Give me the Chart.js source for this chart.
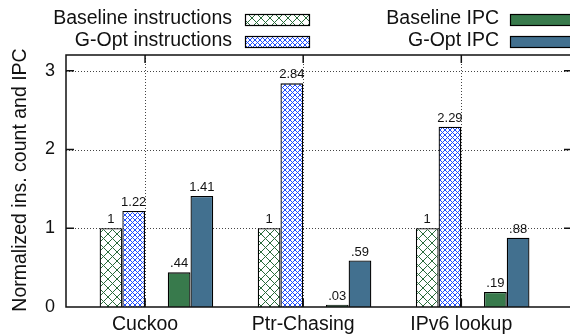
<!DOCTYPE html>
<html>
<head>
<meta charset="utf-8">
<script src="https://cdn.jsdelivr.net/npm/chart.js@4"></script>
<style>
  html, body { margin: 0; padding: 0; background: #fff; overflow: hidden; }
</style>
</head>
<body>
<canvas id="chart" width="576" height="334"></canvas>
<script>
const categories = ['Cuckoo', 'Ptr-Chasing', 'IPv6 lookup'];
const baselineInstructions = [1, 1, 1];
const goptInstructions = [1.22, 2.84, 2.29];
const baselineIPC = [0.44, 0.03, 0.19];
const goptIPC = [1.41, 0.59, 0.88];
const yTicks = [0, 1, 2, 3];

const FONT = "'Liberation Sans', Arial, Helvetica, sans-serif";
const canvas = document.getElementById('chart');
const ctx = canvas.getContext('2d');

// crosshatch fills like gnuplot's patterns
function hatch(size, color) {
  const c = document.createElement('canvas');
  c.width = size; c.height = size;
  const g = c.getContext('2d');
  g.fillStyle = '#fff';
  g.fillRect(0, 0, size, size);
  g.strokeStyle = color;
  g.lineWidth = 1;
  g.beginPath();
  g.moveTo(0, 0); g.lineTo(size, size);
  g.moveTo(size, 0); g.lineTo(0, size);
  g.stroke();
  return ctx.createPattern(c, 'repeat');
}

const greenHatch = hatch(9, '#2a6b3b');
const blueHatch = hatch(5, '#1f4dff');

const points = vals => vals.map((v, i) => ({ x: i, y: v }));
const spacer = () => ({ label: '', data: points([0, 0, 0]), backgroundColor: 'rgba(0,0,0,0)', borderWidth: 0, spacer: true });

function bar(label, vals, fill) {
  return { label, data: points(vals), backgroundColor: fill, borderColor: '#000', borderWidth: 1.3 };
}

const fmt = v => v < 1 ? String(v).replace(/^0/, '') : String(v);

const decorations = {
  id: 'decorations',
  beforeDatasetsDraw(chart) {
    const { ctx, chartArea: a, scales: { x, y } } = chart;
    ctx.save();
    ctx.strokeStyle = '#444';
    ctx.lineWidth = 1;
    ctx.setLineDash([1, 2]);
    ctx.beginPath();
    yTicks.slice(1).forEach(t => {
      const py = Math.round(y.getPixelForValue(t)) + 0.5;
      ctx.moveTo(a.left, py); ctx.lineTo(a.right, py);
    });
    categories.forEach((c, i) => {
      const px = Math.round(x.getPixelForValue(i)) + 0.5;
      ctx.moveTo(px, a.top); ctx.lineTo(px, a.bottom);
    });
    ctx.stroke();
    ctx.restore();
  },
  afterDatasetsDraw(chart) {
    const { ctx, chartArea: a, scales: { x, y } } = chart;
    ctx.save();
    // value labels
    ctx.fillStyle = '#111';
    ctx.font = '13px ' + FONT;
    ctx.textAlign = 'center';
    ctx.textBaseline = 'alphabetic';
    chart.data.datasets.forEach((ds, di) => {
      if (ds.spacer) return;
      chart.getDatasetMeta(di).data.forEach((el, i) => {
        ctx.fillText(fmt(ds.data[i].y), el.x, el.y - 5);
      });
    });

    // border and ticks
    ctx.strokeStyle = '#111';
    ctx.lineWidth = 1.5;
    ctx.beginPath();
    ctx.rect(a.left, a.top, a.right - a.left, a.bottom - a.top);
    yTicks.forEach(t => {
      const py = y.getPixelForValue(t);
      ctx.moveTo(a.left, py); ctx.lineTo(a.left + 8, py);
      ctx.moveTo(a.right, py); ctx.lineTo(a.right - 8, py);
    });
    categories.forEach((c, i) => {
      const px = x.getPixelForValue(i);
      ctx.moveTo(px, a.bottom); ctx.lineTo(px, a.bottom - 8);
      ctx.moveTo(px, a.top); ctx.lineTo(px, a.top + 8);
    });
    ctx.stroke();

    // y title
    ctx.font = '19.5px ' + FONT;
    ctx.translate(26, 180);
    ctx.rotate(-Math.PI / 2);
    ctx.textAlign = 'center';
    ctx.fillText('Normalized ins. count and IPC', 0, 0);
    ctx.restore();
  },
  afterDraw(chart) {
    const { ctx } = chart;
    const items = chart.data.datasets.filter(ds => !ds.spacer);
    const spots = [
      { tx: 232, sx: 245, ty: 24, sy: 14 },
      { tx: 232, sx: 245, ty: 46, sy: 36 },
      { tx: 499, sx: 510, ty: 24, sy: 14 },
      { tx: 499, sx: 510, ty: 46, sy: 36 }
    ];
    ctx.save();
    ctx.font = '19.5px ' + FONT;
    ctx.textAlign = 'right';
    ctx.textBaseline = 'alphabetic';
    items.forEach((ds, i) => {
      const s = spots[i];
      ctx.fillStyle = '#111';
      ctx.fillText(ds.label, s.tx, s.ty);
      ctx.fillStyle = ds.backgroundColor;
      ctx.fillRect(s.sx, s.sy, 64, 11);
      ctx.strokeStyle = '#000';
      ctx.lineWidth = 1.2;
      ctx.strokeRect(s.sx + 0.5, s.sy + 0.5, 64, 11);
    });
    ctx.restore();
  }
};

new Chart(ctx, {
  type: 'bar',
  data: {
    datasets: [
      spacer(),
      bar('Baseline instructions', baselineInstructions, greenHatch),
      bar('G-Opt instructions', goptInstructions, blueHatch),
      spacer(),
      bar('Baseline IPC', baselineIPC, '#387a4c'),
      bar('G-Opt IPC', goptIPC, '#42708f')
    ]
  },
  options: {
    responsive: false,
    animation: false,
    categoryPercentage: 0.862,
    barPercentage: 1,
    layout: { padding: { top: 55, right: 4, left: 0, bottom: 0 } },
    plugins: {
      legend: { display: false },
      tooltip: { enabled: false }
    },
    scales: {
      x: {
        type: 'linear',
        offset: false,
        min: -0.5,
        max: 2.7,
        grid: { display: false, drawTicks: false },
        border: { display: false },
        afterFit: s => { s.height = 27; },
        ticks: {
          stepSize: 1,
          includeBounds: false,
          autoSkip: false,
          maxRotation: 0,
          padding: 6,
          color: '#111',
          font: { family: FONT, size: 19.5 },
          callback: v => categories[v] ?? ''
        }
      },
      y: {
        min: 0,
        max: 3.2,
        grid: { display: false, drawTicks: false },
        border: { display: false },
        afterFit: s => { s.width = 66; },
        afterBuildTicks: s => { s.ticks = yTicks.map(v => ({ value: v })); },
        ticks: {
          padding: 11,
          color: '#111',
          font: { family: FONT, size: 18 }
        }
      }
    }
  },
  plugins: [decorations]
});
</script>
</body>
</html>
